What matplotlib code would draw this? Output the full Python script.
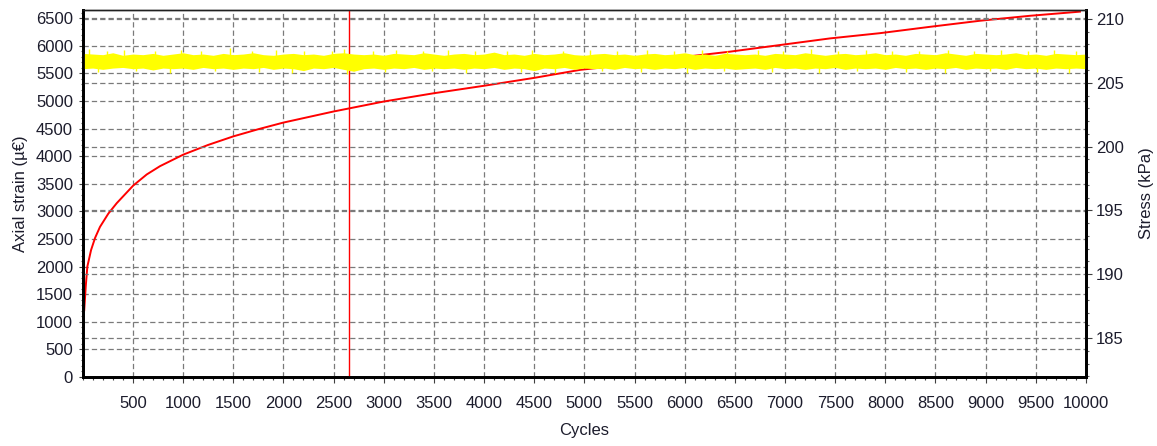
import matplotlib
matplotlib.use("Agg")
import matplotlib.pyplot as plt
from matplotlib.ticker import MultipleLocator, FixedLocator

plt.rcParams['font.family'] = ['Liberation Sans', 'DejaVu Sans']
plt.rcParams['lines.scale_dashes'] = False

# Permanent axial strain versus load cycles
strain_cycles = [15, 30, 46, 83, 123, 172, 255, 339, 504, 638, 770, 1003, 1250,
                 1501, 1750, 2000, 2498, 2996, 3494, 3993, 4500, 4957, 5455,
                 5950, 6452, 6950, 7448, 7947, 8445, 8943, 9442, 9940]
strain_values = [1210, 1640, 2000, 2300, 2520, 2720, 2960, 3150, 3470, 3670,
                 3820, 4030, 4205, 4360, 4490, 4610, 4810, 4990, 5140, 5275,
                 5420, 5565, 5665, 5790, 5895, 6015, 6135, 6230, 6345, 6455,
                 6545, 6620]

# Deviator stress band (max / min per 100-cycle bin), kPa
stress_cycles = list(range(0, 10001, 100))
stress_max = [
    207.30, 207.25, 207.20, 207.35, 207.15, 207.25, 207.20, 207.30, 207.15, 207.25,
    207.35, 207.20, 207.25, 207.15, 207.30, 207.20, 207.25, 207.35, 207.20, 207.15,
    207.25, 207.30, 207.20, 207.25, 207.15, 207.30, 207.35, 207.25, 207.20, 207.25,
    207.15, 207.30, 207.25, 207.20, 207.35, 207.25, 207.15, 207.25, 207.30, 207.20,
    207.25, 207.40, 207.20, 207.25, 207.15, 207.30, 207.20, 207.25, 207.35, 207.20,
    207.15, 207.25, 207.30, 207.20, 207.25, 207.15, 207.25, 207.30, 207.20, 207.25,
    207.35, 207.20, 207.25, 207.15, 207.30, 207.25, 207.20, 207.25, 207.15, 207.30,
    207.25, 207.20, 207.35, 207.25, 207.15, 207.25, 207.30, 207.20, 207.25, 207.35,
    207.20, 207.25, 207.15, 207.30, 207.25, 207.20, 207.35, 207.25, 207.15, 207.30,
    207.25, 207.20, 207.25, 207.35, 207.20, 207.25, 207.15, 207.30, 207.25, 207.20,
    207.25]
stress_min = [
    206.10, 206.15, 206.05, 206.15, 206.20, 206.10, 206.15, 206.00, 206.15, 206.10,
    206.15, 206.05, 206.20, 206.10, 206.15, 206.05, 206.15, 206.10, 206.20, 206.05,
    206.15, 206.10, 205.95, 206.15, 206.10, 206.20, 206.05, 205.90, 206.10, 206.15,
    206.05, 206.15, 206.10, 206.20, 206.05, 206.15, 206.10, 206.15, 206.05, 206.15,
    206.10, 206.20, 206.05, 206.15, 206.10, 205.95, 206.15, 206.10, 206.20, 206.05,
    206.15, 206.10, 206.15, 206.05, 206.20, 206.10, 206.15, 206.05, 206.15, 206.10,
    206.20, 206.05, 206.15, 206.10, 206.15, 206.05, 206.10, 206.15, 206.05, 206.20,
    206.10, 206.15, 206.05, 206.15, 206.10, 206.20, 206.05, 206.15, 206.10, 206.15,
    206.05, 206.20, 206.10, 206.15, 206.05, 206.15, 206.10, 206.20, 206.05, 206.15,
    206.10, 206.15, 206.05, 206.20, 206.10, 206.15, 206.05, 206.15, 206.10, 206.15,
    206.10]

# Isolated stress peaks and troughs, kPa
peak_cycles = [60, 240, 410, 720, 980, 1180, 1470, 1690, 1930, 2210, 2480, 2600,
               2890, 3120, 3390, 3640, 3910, 4230, 4480, 4790, 5060, 5330, 5620,
               5890, 6170, 6420, 6730, 6980, 7260, 7530, 7810, 8070, 8340, 8620,
               8880, 9150, 9420, 9680, 9900]
peak_values = [207.65, 207.50, 207.55, 207.45, 207.60, 207.50, 207.70, 207.45,
               207.55, 207.50, 207.45, 207.65, 207.50, 207.55, 207.45, 207.60,
               207.50, 207.45, 207.55, 207.50, 207.60, 207.45, 207.55, 207.50,
               207.60, 207.45, 207.55, 207.50, 207.65, 207.45, 207.55, 207.50,
               207.45, 207.60, 207.50, 207.55, 207.45, 207.60, 207.50]
trough_cycles = [150, 530, 870, 1320, 1760, 2090, 2630, 3010, 3480, 3820, 4370,
                 4710, 5180, 5560, 6020, 6390, 6870, 7340, 7720, 8210, 8590,
                 9040, 9510, 9830]
trough_values = [205.85, 205.90, 205.80, 205.90, 205.85, 205.80, 205.65, 205.85,
                 205.90, 205.80, 205.85, 205.75, 205.90, 205.85, 205.80, 205.90,
                 205.85, 205.80, 205.90, 205.85, 205.80, 205.90, 205.85, 205.80]
stress_centre = 206.7

cursor_cycle = 2650

strain_ticks = list(range(0, 6501, 500))
stress_ticks = [185, 190, 195, 200, 205, 210]
cycle_ticks = list(range(500, 10001, 500))

text_color = '#1c1c2c'
grid_kw = dict(color='#7a7a7a', linewidth=0.9, linestyle=(0, (3.8, 2.2)))

fig = plt.figure(figsize=(11.57, 4.46), dpi=100)
ax = fig.add_axes([0.0715, 0.1547, 0.8671, 0.8229])
ax2 = ax.twinx()

ax.set_xlim(0, 10000)
ax.set_ylim(0, 6650)
ax2.set_ylim(181.95, 210.7)

# grid
for c in cycle_ticks[:-1]:
    ax.axvline(c, zorder=0.5, **grid_kw)
for s in strain_ticks[1:]:
    ax.axhline(s, zorder=0.5, **grid_kw)
for s in stress_ticks:
    ax2.axhline(s, zorder=0.5, **grid_kw)

ax.plot(strain_cycles, strain_values, color='#ff0000', linewidth=1.4, zorder=2)
ax.axvline(cursor_cycle, color='#ff0000', linewidth=1.0, zorder=3)

ax2.fill_between(stress_cycles, stress_min, stress_max,
                 color='#ffff00', linewidth=0, zorder=2)
ax2.vlines(peak_cycles, stress_centre, peak_values, color='#ffff00',
           linewidth=1.0, zorder=2)
ax2.vlines(trough_cycles, trough_values, stress_centre, color='#ffff00',
           linewidth=1.0, zorder=2)

# ticks
ax.xaxis.set_major_locator(FixedLocator(cycle_ticks))
ax.xaxis.set_minor_locator(MultipleLocator(100))
ax.yaxis.set_major_locator(FixedLocator(strain_ticks))
ax.yaxis.set_minor_locator(MultipleLocator(100))
ax2.yaxis.set_major_locator(FixedLocator(stress_ticks))
ax2.yaxis.set_minor_locator(MultipleLocator(1))

ax.tick_params(axis='x', which='major', length=4, width=0.8, pad=10,
               labelsize=12, colors='#404040', labelcolor=text_color)
ax.tick_params(axis='x', which='minor', length=2.5, width=0.8, colors='#404040')
ax.tick_params(axis='y', which='major', length=3, width=0.8, pad=4,
               labelsize=12, colors='#404040', labelcolor=text_color)
ax.tick_params(axis='y', which='minor', length=1.5, width=0.8, colors='#606060')
ax2.tick_params(axis='y', which='major', length=4, width=0.8, pad=3,
                labelsize=12, colors='#404040', labelcolor=text_color)
ax2.tick_params(axis='y', which='minor', length=2, width=0.8, colors='#606060')

ax.set_xlabel('Cycles', fontsize=12, color=text_color, labelpad=8)
ax.set_ylabel('Axial strain (µ€)', fontsize=12, color=text_color, labelpad=6)
ax2.set_ylabel('Stress (kPa)', fontsize=12, color=text_color, labelpad=11)

for a in (ax, ax2):
    for side in ('left', 'bottom', 'right'):
        a.spines[side].set_linewidth(2.0)
        a.spines[side].set_color('black')
    a.spines['top'].set_linewidth(1.0)
    a.spines['top'].set_color('#202020')

fig.savefig('out.png', dpi=100)
